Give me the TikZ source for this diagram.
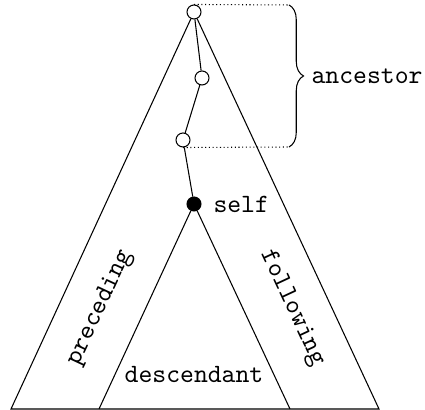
\documentclass[tikz,border=0pt]{standalone}
\usetikzlibrary{decorations.pathreplacing}
\begin{document}
\begin{tikzpicture}[x=0.0133cm,y=0.0133cm,font=\ttfamily]
  \tikzset{
    axisnode/.style={draw,circle,fill=white,minimum size=5.3pt,inner sep=0pt},
    selfnode/.style={axisnode,fill=black},
    axisbrace/.style={decorate,decoration={brace,amplitude=5.5pt}},
  }
  \useasboundingbox (0,0) rectangle (425,410);

  % corners of the two triangles
  \coordinate (bigleft) at (11,1);
  \coordinate (bigright) at (379,1);
  \coordinate (descleft) at (99,1);
  \coordinate (descright) at (290,1);

  % the nodes on the ancestor axis
  \node[axisnode] (root) at (194,398) {};
  \node[axisnode] (anc1) at (202,332) {};
  \node[axisnode] (anc2) at (183,270) {};
  \node[selfnode] (self) at (194,206) {};

  \draw (root) -- (bigleft) -- (bigright) -- (root);
  \draw (root) -- (anc1) -- (anc2) -- (self);
  \draw (self) -- (descleft);
  \draw (self) -- (descright);

  % the brace for the ancestors
  \coordinate (bracetop) at (289,405);
  \coordinate (bracebot) at (289,263);
  \draw[densely dotted] (root.north) -- (bracetop);
  \draw[densely dotted] (anc2.south) -- (bracebot);
  \draw[axisbrace] (bracetop) -- (bracebot)
    node[midway,right=5pt] (anclabel) {ancestor};

  \node[right=1pt] (selflabel) at (self.east) {self};
  \node[rotate=65] (preclabel) at (100,102) {preceding};
  \node[rotate=-65] (follabel) at (292,102) {following};
  \node (desclabel) at (194,35) {descendant};
\end{tikzpicture}
\end{document}
